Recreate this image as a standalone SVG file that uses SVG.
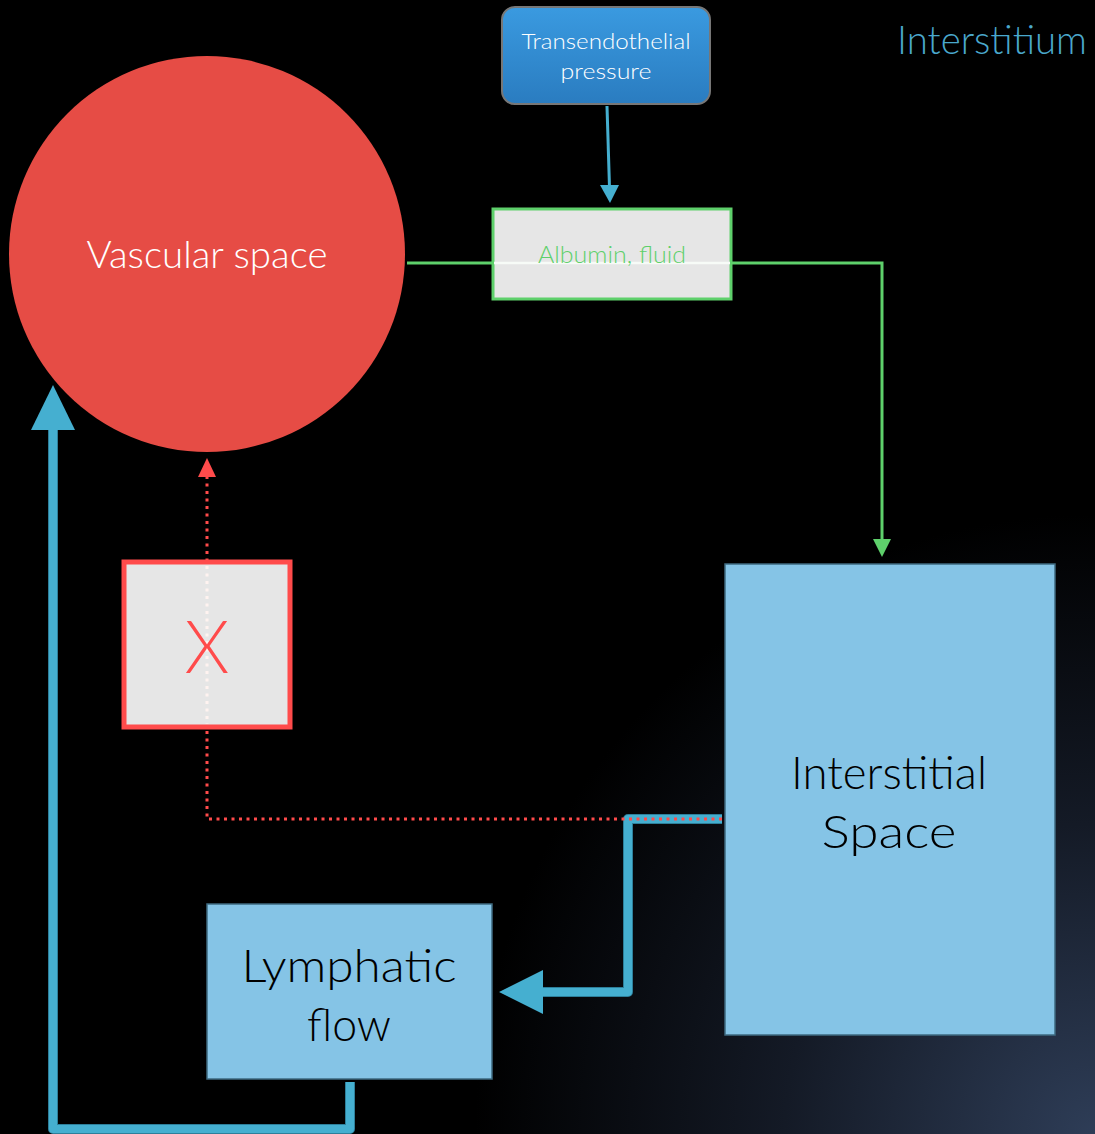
<svg xmlns="http://www.w3.org/2000/svg" width="1095" height="1134" viewBox="0 0 1095 1134">
<defs>
<radialGradient id="bg" cx="1095" cy="1134" r="620" gradientUnits="userSpaceOnUse">
<stop offset="0" stop-color="#2e3d57"/>
<stop offset="0.5" stop-color="#141a26"/>
<stop offset="1" stop-color="#000"/>
</radialGradient>
<linearGradient id="tg" x1="0" y1="0" x2="0" y2="1">
<stop offset="0" stop-color="#3a9ae0"/>
<stop offset="1" stop-color="#2a7cc0"/>
</linearGradient>
</defs>
<style>
.lt{font-family:Lato,"Open Sans","Liberation Sans",sans-serif;font-weight:300}
.blue{fill:#85c4e6;stroke:#3e6a80;stroke-width:1.5}
.big{font-size:46px;fill:#000;text-anchor:middle}
.pipe{fill:none;stroke:#45afd0;stroke-width:8;stroke-linejoin:round}
.pipeo{fill:none;stroke:#2d7f9a;stroke-width:10;stroke-linejoin:round}
</style>
<rect width="1095" height="1134" fill="url(#bg)"/>
<text class="lt" x="992" y="54" font-size="40" fill="#4aa8cc" text-anchor="middle" textLength="190" lengthAdjust="spacingAndGlyphs">Interstitium</text>

<g id="connectors">
<polyline points="407,263 882,263 882,544" fill="none" stroke="#5ed06b" stroke-width="3"/>
<path d="M873,539 L891,539 L882,557 z" fill="#5ed06b"/>
<line x1="607" y1="106" x2="609.5" y2="188" stroke="#45afd0" stroke-width="3"/>
<path d="M600,185 L619,185 L610,203 z" fill="#45afd0"/>
<polyline class="pipeo" points="350,1082 350,1129 53,1129 53,425"/>
<polyline class="pipe" points="350,1082 350,1129 53,1129 53,425"/>
<path d="M31,430 L75,430 L53,385 z" fill="#45afd0"/>
<polyline class="pipeo" points="722,819 628,819 628,992 540,992"/>
<polyline class="pipe" points="722,819 628,819 628,992 540,992"/>
<path d="M543,970 L543,1014 L499,992 z" fill="#45afd0"/>
<polyline points="722,819 207,819 207,476" fill="none" stroke="#ff4b4b" stroke-width="3" stroke-dasharray="3,4.5"/>
<path d="M198,477 L216,477 L207,458 z" fill="#ff4b4b"/>
</g>

<g id="vascular">
<circle cx="207" cy="254" r="198" fill="#e64c45"/>
<text class="lt" x="207" y="268" font-size="37" fill="#fff" text-anchor="middle" textLength="241" lengthAdjust="spacingAndGlyphs">Vascular space</text>
</g>

<g id="pressure">
<rect x="502" y="7" width="208" height="97" rx="13" fill="url(#tg)" stroke="#777" stroke-width="2"/>
<text class="lt" x="606" y="49" font-size="22" fill="#fff" text-anchor="middle" textLength="169" lengthAdjust="spacingAndGlyphs">Transendothelial</text>
<text class="lt" x="606" y="79" font-size="22" fill="#fff" text-anchor="middle" textLength="91" lengthAdjust="spacingAndGlyphs">pressure</text>
</g>

<g id="albumin">
<rect x="493" y="209" width="238" height="90" fill="#e6e6e6" stroke="#5ed06b" stroke-width="3"/>
<line x1="494" y1="263" x2="730" y2="263" stroke="#f7fbf7" stroke-width="2.5"/>
<text class="lt" x="612" y="263" font-size="23" fill="#5ed06b" text-anchor="middle" textLength="148" lengthAdjust="spacingAndGlyphs">Albumin, fluid</text>
</g>

<g id="blocked">
<rect x="124" y="562" width="166" height="165" fill="#e6e6e6" stroke="#ff4b4b" stroke-width="5"/>
<line x1="207" y1="566" x2="207" y2="724" stroke="#fff3f0" stroke-width="3" stroke-dasharray="3,4.5"/>
<text class="lt" x="207" y="673" font-size="72" fill="#ff4b4b" text-anchor="middle">X</text>
</g>

<g id="interstitial">
<rect class="blue" x="725" y="564" width="330" height="471"/>
<text class="lt big" x="889" y="789" textLength="196" lengthAdjust="spacingAndGlyphs">Interstitial</text>
<text class="lt big" x="889" y="848" textLength="135" lengthAdjust="spacingAndGlyphs">Space</text>
</g>

<g id="lymphatic">
<rect class="blue" x="207" y="904" width="285" height="175"/>
<text class="lt big" x="349" y="982" textLength="215" lengthAdjust="spacingAndGlyphs">Lymphatic</text>
<text class="lt big" x="349" y="1041" textLength="84" lengthAdjust="spacingAndGlyphs">flow</text>
</g>
</svg>
